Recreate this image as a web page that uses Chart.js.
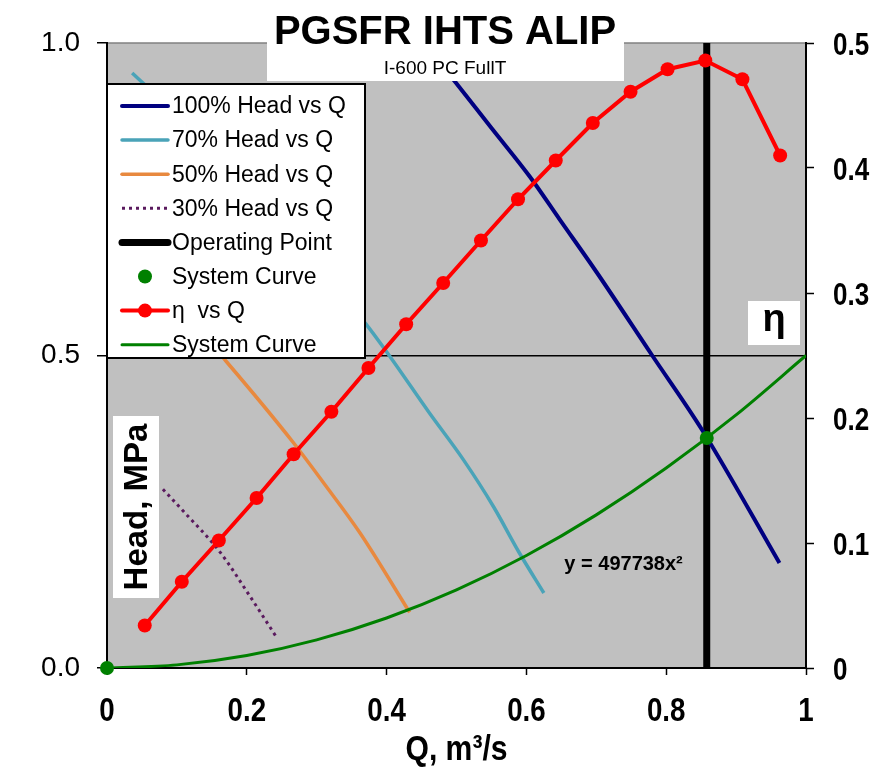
<!DOCTYPE html>
<html>
<head>
<meta charset="utf-8">
<title>PGSFR IHTS ALIP</title>
<script src="https://cdn.jsdelivr.net/npm/chart.js@4/dist/chart.umd.min.js"></script>
<style>
  html, body { margin: 0; padding: 0; background: #fff; }
  #wrap { width: 874px; height: 778px; }
</style>
</head>
<body>
<div id="wrap"><canvas id="pumpChart" width="874" height="778"></canvas></div>
<script>
// values (Q in m3/s, head in MPa, eta on right axis)
const etaQ = [0.054, 0.107, 0.160, 0.214, 0.267, 0.321, 0.374, 0.428, 0.481, 0.535, 0.588, 0.642, 0.695, 0.749, 0.802, 0.856, 0.909, 0.963];
const etaVals = [0.034, 0.069, 0.102, 0.136, 0.171, 0.205, 0.240, 0.275, 0.308, 0.342, 0.375, 0.406, 0.436, 0.461, 0.479, 0.486, 0.471, 0.410];

const head100Q = [0.42, 0.454, 0.498, 0.55, 0.605, 0.648, 0.70, 0.78, 0.853, 0.962];
const head100 = [1.05, 1.0, 0.938, 0.864, 0.786, 0.717, 0.634, 0.50, 0.378, 0.168];

const head70Q = [0.036, 0.1, 0.2, 0.3, 0.37, 0.405, 0.46, 0.51, 0.553, 0.59, 0.625];
const head70 = [0.952, 0.885, 0.77, 0.64, 0.551, 0.498, 0.41, 0.333, 0.258, 0.184, 0.12];

const head50Q = [0.05, 0.1, 0.171, 0.267, 0.31, 0.362, 0.433];
const head50 = [0.62, 0.58, 0.49, 0.36, 0.296, 0.216, 0.089];

const head30Q = [0.08, 0.11, 0.162, 0.205, 0.242];
const head30 = [0.286, 0.25, 0.185, 0.114, 0.05];

const sysQ = [0, 0.1, 0.2, 0.3, 0.4, 0.5, 0.6, 0.7, 0.8, 0.9, 1.0];
const sysHead = [0, 0.005, 0.02, 0.045, 0.08, 0.125, 0.18, 0.245, 0.32, 0.405, 0.5];

const sysPointQ = [0, 0.858];
const sysPointHead = [0, 0.368];

const opQ = [0.858, 0.858];
const opHead = [0, 1.0];

const xTicks = [0, 0.2, 0.4, 0.6, 0.8, 1];
const headTicks = [0, 0.5, 1.0];
const etaTicks = [0, 0.1, 0.2, 0.3, 0.4, 0.5];

const SANS = '"Liberation Sans", Arial, sans-serif';

const COLORS = {
  h100: "#000080",
  h70: "#4aa3b8",
  h50: "#e8893f",
  h30: "#5a1a5e",
  op: "#000000",
  sys: "#008000",
  eta: "#ff0000",
  plotBg: "#c0c0c0",
};

function pts(xs, ys) {
  return xs.map((x, i) => ({ x: x, y: ys[i] }));
}

function fmtTick(v) {
  return v === 0 || v === 1 ? String(v) : v.toFixed(1);
}

// bold text squeezed sideways, stands in for Arial Narrow Bold
function narrowText(ctx, text, x, y, size, align, squeeze) {
  ctx.save();
  ctx.font = "bold " + size + "px " + SANS;
  ctx.textBaseline = "alphabetic";
  ctx.textAlign = align;
  ctx.translate(x, y);
  ctx.scale(squeeze, 1);
  ctx.fillStyle = "#000";
  ctx.fillText(text, 0, 0);
  ctx.restore();
}

// legend rows drawn by hand, in the reference's order
const legendRows = [
  { text: "100% Head vs Q", kind: "line", color: COLORS.h100, width: 4 },
  { text: "70% Head vs Q", kind: "line", color: COLORS.h70, width: 3.5 },
  { text: "50% Head vs Q", kind: "line", color: COLORS.h50, width: 3.5 },
  { text: "30% Head vs Q", kind: "dots", color: COLORS.h30, width: 3 },
  { text: "Operating Point", kind: "line", color: COLORS.op, width: 7 },
  { text: "System Curve", kind: "point", color: COLORS.sys },
  { text: "η  vs Q", kind: "linepoint", color: COLORS.eta, width: 4 },
  { text: "System Curve", kind: "line", color: COLORS.sys, width: 3 },
];

const backdrop = {
  id: "backdrop",
  beforeDraw(chart) {
    const { ctx, chartArea: a } = chart;
    ctx.save();
    ctx.fillStyle = "#fff";
    ctx.fillRect(0, 0, chart.width, chart.height);
    ctx.fillStyle = COLORS.plotBg;
    ctx.fillRect(a.left, a.top, a.right - a.left, a.bottom - a.top);
    ctx.strokeStyle = "#808080";
    ctx.lineWidth = 1.5;
    ctx.beginPath();
    ctx.moveTo(a.left, a.top);
    ctx.lineTo(a.right, a.top);
    ctx.stroke();
    ctx.restore();
  },
};

const axisText = {
  id: "axisText",
  afterDraw(chart) {
    const { ctx } = chart;
    const xs = chart.scales.x;
    const y2 = chart.scales.y2;
    xs.ticks.forEach((t) => {
      narrowText(ctx, fmtTick(t.value), xs.getPixelForValue(t.value), 721, 33, "center", 0.84);
    });
    y2.ticks.forEach((t) => {
      const label = t.value === 0 ? "0" : t.value.toFixed(1);
      narrowText(ctx, label, y2.right - 41, y2.getPixelForValue(t.value) + 12, 31, "left", 0.84);
    });
    narrowText(ctx, "Q, m³/s", (xs.left + xs.right) / 2, 760, 35, "center", 0.86);
  },
};

const overlays = {
  id: "overlays",
  afterDraw(chart) {
    const { ctx, chartArea: a } = chart;
    const xs = chart.scales.x;
    const ys = chart.scales.y;
    ctx.save();

    // title block
    ctx.fillStyle = "#fff";
    ctx.fillRect(267, 0, 357, 81);
    ctx.fillStyle = "#000";
    ctx.textAlign = "center";
    ctx.textBaseline = "alphabetic";
    ctx.font = "bold 40px " + SANS;
    ctx.fillText("PGSFR IHTS ALIP", 445, 44);
    ctx.font = "19px " + SANS;
    ctx.fillText("I-600 PC FullT", 445, 74);

    // eta axis label
    ctx.fillStyle = "#fff";
    ctx.fillRect(748, 301, 52, 44);
    ctx.fillStyle = "#000";
    ctx.font = "bold 38px " + SANS;
    ctx.fillText("η", 774, 331);

    // head axis label
    ctx.fillStyle = "#fff";
    ctx.fillRect(113, 416, 46, 182);
    ctx.save();
    ctx.translate(137, 507);
    ctx.rotate(-Math.PI / 2);
    ctx.fillStyle = "#000";
    ctx.textBaseline = "middle";
    ctx.font = "bold 33px " + SANS;
    ctx.fillText("Head, MPa", 0, 1);
    ctx.restore();

    // trendline equation
    ctx.fillStyle = "#000";
    ctx.font = "bold 20px " + SANS;
    ctx.textBaseline = "middle";
    ctx.fillText("y = 497738x²", xs.getPixelForValue(0.739), ys.getPixelForValue(0.165));

    // legend box
    const lx = a.left, ly = a.top + 41, lw = 258, lh = 274;
    ctx.fillStyle = "#fff";
    ctx.fillRect(lx, ly, lw, lh);
    ctx.strokeStyle = "#000";
    ctx.lineWidth = 2;
    ctx.strokeRect(lx, ly, lw, lh);
    ctx.font = "23px " + SANS;
    ctx.textAlign = "left";
    ctx.textBaseline = "middle";
    legendRows.forEach((row, i) => {
      const cy = ly + 22 + i * 34.1;
      const x0 = lx + 15, x1 = lx + 61, xm = (x0 + x1) / 2;
      ctx.strokeStyle = row.color;
      ctx.fillStyle = row.color;
      if (row.kind === "line" || row.kind === "linepoint" || row.kind === "dots") {
        ctx.lineWidth = row.width;
        ctx.lineCap = row.kind === "dots" ? "butt" : "round";
        ctx.setLineDash(row.kind === "dots" ? [3, 4] : []);
        ctx.beginPath();
        ctx.moveTo(x0, cy);
        ctx.lineTo(x1, cy);
        ctx.stroke();
        ctx.setLineDash([]);
      }
      if (row.kind === "point" || row.kind === "linepoint") {
        ctx.beginPath();
        ctx.arc(xm, cy, 7, 0, Math.PI * 2);
        ctx.fill();
      }
      ctx.fillStyle = "#000";
      ctx.fillText(row.text, lx + 65, cy + 1);
    });

    ctx.restore();
  },
};

const datasets = [
  {
    label: "System Curve",
    data: pts(sysPointQ, sysPointHead),
    showLine: false,
    pointRadius: 7,
    pointBackgroundColor: COLORS.sys,
    pointBorderWidth: 0,
    borderColor: COLORS.sys,
    yAxisID: "y",
    clip: false,
    order: 1,
  },
  {
    label: "η  vs Q",
    data: pts(etaQ, etaVals),
    borderColor: COLORS.eta,
    backgroundColor: COLORS.eta,
    borderWidth: 4,
    pointRadius: 7,
    pointBorderWidth: 0,
    pointBackgroundColor: COLORS.eta,
    yAxisID: "y2",
    order: 2,
  },
  {
    label: "System Curve",
    data: pts(sysQ, sysHead),
    borderColor: COLORS.sys,
    borderWidth: 3,
    pointRadius: 0,
    cubicInterpolationMode: "monotone",
    yAxisID: "y",
    order: 3,
  },
  {
    label: "100% Head vs Q",
    data: pts(head100Q, head100),
    borderColor: COLORS.h100,
    borderWidth: 4,
    pointRadius: 0,
    cubicInterpolationMode: "monotone",
    yAxisID: "y",
    order: 4,
  },
  {
    label: "70% Head vs Q",
    data: pts(head70Q, head70),
    borderColor: COLORS.h70,
    borderWidth: 3.5,
    pointRadius: 0,
    cubicInterpolationMode: "monotone",
    yAxisID: "y",
    order: 5,
  },
  {
    label: "50% Head vs Q",
    data: pts(head50Q, head50),
    borderColor: COLORS.h50,
    borderWidth: 3.5,
    pointRadius: 0,
    cubicInterpolationMode: "monotone",
    yAxisID: "y",
    order: 6,
  },
  {
    label: "30% Head vs Q",
    data: pts(head30Q, head30),
    borderColor: COLORS.h30,
    borderWidth: 3,
    borderDash: [3, 4],
    pointRadius: 0,
    cubicInterpolationMode: "monotone",
    yAxisID: "y",
    order: 7,
  },
  {
    label: "Operating Point",
    data: pts(opQ, opHead),
    borderColor: COLORS.op,
    borderWidth: 7,
    pointRadius: 0,
    yAxisID: "y",
    order: 8,
  },
];

new Chart(document.getElementById("pumpChart"), {
  type: "line",
  data: { datasets: datasets },
  options: {
    responsive: false,
    animation: false,
    devicePixelRatio: 1,
    layout: { padding: { top: 43, left: 0, right: 0, bottom: 0 } },
    plugins: {
      legend: { display: false },
      tooltip: { enabled: false },
      title: { display: false },
    },
    scales: {
      x: {
        type: "linear",
        min: 0,
        max: 1,
        afterBuildTicks: (s) => { s.ticks = xTicks.map((v) => ({ value: v })); },
        afterFit: (s) => { s.height = 110; },
        border: { color: "#000", width: 2 },
        grid: { drawOnChartArea: false, tickColor: "#000", tickLength: 7, tickWidth: 1.5 },
        ticks: { display: false },
      },
      y: {
        type: "linear",
        position: "left",
        min: 0,
        max: 1,
        afterBuildTicks: (s) => { s.ticks = headTicks.map((v) => ({ value: v })); },
        afterFit: (s) => { s.width = 107; },
        border: { color: "#000", width: 2 },
        grid: {
          color: (c) => (c.tick && c.tick.value === 0.5 ? "#000" : "rgba(0,0,0,0)"),
          lineWidth: 1.5,
          tickColor: "#000",
          tickLength: 10,
          tickWidth: 1.5,
        },
        ticks: {
          padding: 17,
          color: "#000",
          font: { family: SANS, size: 28 },
          callback: (v) => v.toFixed(1),
        },
      },
      y2: {
        type: "linear",
        position: "right",
        min: 0,
        max: 0.5,
        afterBuildTicks: (s) => { s.ticks = etaTicks.map((v) => ({ value: v })); },
        afterFit: (s) => { s.width = 68; },
        border: { color: "#000", width: 2 },
        grid: { drawOnChartArea: false, tickColor: "#000", tickLength: 8, tickWidth: 1.5 },
        ticks: { display: false },
      },
    },
  },
  plugins: [backdrop, axisText, overlays],
});
</script>
</body>
</html>
